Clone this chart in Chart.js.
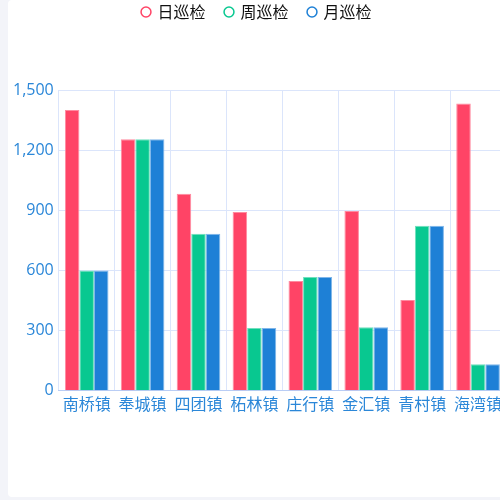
<!DOCTYPE html>
<html>
<head>
<meta charset="utf-8">
<script src="https://cdn.jsdelivr.net/npm/chart.js@4/dist/chart.umd.min.js"></script>
<style>
  html, body { margin: 0; padding: 0; background: #f3f4f9; overflow: hidden; }
  #_card { position: absolute; left: 8px; top: 0; width: 500px; height: 497px; background: #fff; border-radius: 4px; overflow: hidden; }
  #_canvasc { display: block; margin-top: -16px; }
</style>
</head>
<body>
<div id="_card"><canvas id="_canvasc"></canvas></div>
<script>
	// ******************************************************** DATA

	var towns   = ["南桥镇", "奉城镇", "四团镇", "柘林镇", "庄行镇", "金汇镇", "青村镇", "海湾镇"];
	var daily   = [1400, 1255, 983, 892, 547, 897, 453, 1433];
	var weekly  = [600, 1255, 783, 313, 567, 317, 823, 133];
	var monthly = [600, 1255, 783, 313, 567, 317, 823, 133];
	var series  = ["日巡检", "周巡检", "月巡检"];
	var yTicks  = [0, 300, 600, 900, 1200, 1500];

	var font    = { family: "'Noto Sans CJK SC', 'Noto Sans', sans-serif", size: 16 };
	var numFont = { family: "'Open Sans', 'Noto Sans CJK SC', sans-serif", size: 16 };

	var config = {
		type: 'bar',
		data: {
			labels: towns,
			datasets: [{
				label: series[0], data: daily,
				backgroundColor: "#ff4466", borderColor: "#ff8aa0", borderWidth: 1
			}, {
				label: series[1], data: weekly,
				backgroundColor: "#08c890", borderColor: "#6fe0bd", borderWidth: 1
			}, {
				label: series[2], data: monthly,
				backgroundColor: "#1e80d6", borderColor: "#7fb6ea", borderWidth: 1
			}]
		},
		options: {
			responsive: false,
			animation: false,
			categoryPercentage: 0.78,
			barPercentage: 1,
			layout: { padding: { left: 0, right: 2, top: 0, bottom: 0 } },
			plugins: {
				legend: {
					position: 'top',
					labels: {
						usePointStyle: true,
						pointStyle: 'circle',
						boxWidth: 7,
						boxHeight: 7,
						padding: 20,
						color: '#111',
						font: font,
						generateLabels: function (chart) {
							var items = Chart.defaults.plugins.legend.labels.generateLabels(chart);
							items.forEach(function (it) {
								it.strokeStyle = it.fillStyle;
								it.fillStyle = '#fff';
								it.lineWidth = 1.5;
							});
							return items;
						}
					}
				},
				tooltip: { enabled: false }
			},
			scales: {
				x: {
					grid: { color: '#dbe5fb', drawTicks: false },
					border: { color: '#b9cdf5' },
					ticks: { color: '#2b87d8', font: font, padding: 4, maxRotation: 0, autoSkip: false }
				},
				y: {
					min: yTicks[0],
					max: yTicks[yTicks.length - 1],
					grid: { color: '#dbe5fb', drawTicks: false },
					border: { display: false },
					afterBuildTicks: function (axis) {
						axis.ticks = yTicks.map(function (v) { return { value: v }; });
					},
					ticks: { color: '#2b87d8', font: numFont, padding: 5 }
				}
			}
		},
		plugins: [{
			id: 'legendGap',
			beforeInit: function (chart) {
				var fit = chart.legend.fit;
				chart.legend.fit = function () {
					fit.bind(chart.legend)();
					this.height += 60;
				};
			}
		}]
	};

	// ******************************************************** CHART

	var _canvasc = document.getElementById("_canvasc");
	_canvasc.width  = 500;
	_canvasc.height = 434;
	var _ctxc = _canvasc.getContext("2d");

	window.myBar = new Chart(_ctxc, config);
</script>
</body>
</html>
